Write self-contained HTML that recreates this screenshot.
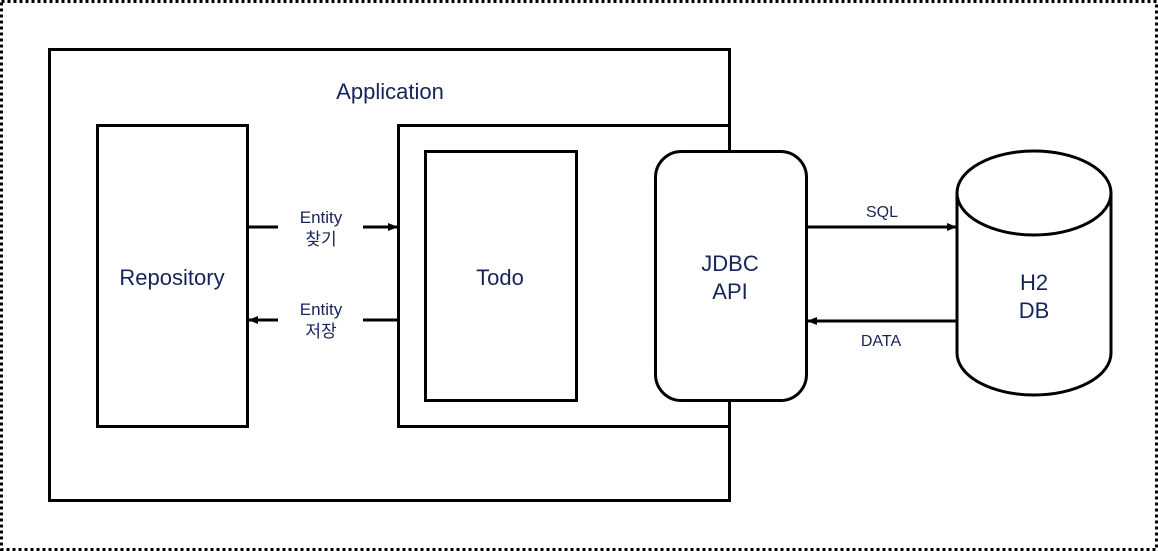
<!DOCTYPE html>
<html><head><meta charset="utf-8"><style>
html,body{margin:0;padding:0;background:#fff;}
svg{display:block}
text{font-family:"Liberation Sans","Noto Sans CJK KR",sans-serif;fill:#16245a;}
</style></head><body>
<svg width="1158" height="551" viewBox="0 0 1158 551">
<defs><marker id="a" markerWidth="10" markerHeight="8" refX="9" refY="4" orient="auto" markerUnits="userSpaceOnUse"><path d="M0,0 L10,4 L0,8 z" fill="#000"/></marker></defs>
<rect x="1.5" y="1.5" width="1155" height="548" fill="none" stroke="#000" stroke-width="3" stroke-dasharray="3,3"/>
<g fill="none" stroke="#000" stroke-width="3">
<rect x="49.5" y="49.5" width="680" height="451"/>
<rect x="97.5" y="125.5" width="150" height="301"/>
<rect x="398.5" y="125.5" width="331" height="301"/>
<rect x="425.5" y="151.5" width="151" height="249"/>
<rect x="655.5" y="151.5" width="151" height="249" rx="26" fill="#fff"/>
<path d="M957,193 L957,353 A77,42 0 0 0 1111,353 L1111,193 A77,42 0 0 0 957,193 A77,42 0 0 0 1111,193"/>
</g>
<g stroke="#000" stroke-width="3">
<line x1="248" y1="227" x2="278" y2="227"/>
<line x1="363" y1="227" x2="397" y2="227" marker-end="url(#a)"/>
<line x1="397" y1="320" x2="363" y2="320"/>
<line x1="278" y1="320" x2="249" y2="320" marker-end="url(#a)"/>
<line x1="807" y1="227" x2="956" y2="227" marker-end="url(#a)"/>
<line x1="956" y1="321" x2="808" y2="321" marker-end="url(#a)"/>
</g>
<text x="390" y="99" font-size="22" text-anchor="middle">Application</text>
<text x="172" y="285" font-size="22" text-anchor="middle">Repository</text>
<text x="500" y="285" font-size="22" text-anchor="middle">Todo</text>
<text x="730" y="271" font-size="22" text-anchor="middle">JDBC</text>
<text x="730" y="299" font-size="22" text-anchor="middle">API</text>
<text x="1034" y="290" font-size="22" text-anchor="middle">H2</text>
<text x="1034" y="318" font-size="22" text-anchor="middle">DB</text>
<text x="321" y="223" font-size="17" text-anchor="middle">Entity</text>
<text x="321" y="245" font-size="17" text-anchor="middle">찾기</text>
<text x="321" y="315" font-size="17" text-anchor="middle">Entity</text>
<text x="321" y="337" font-size="17" text-anchor="middle">저장</text>
<text x="882" y="217" font-size="16" text-anchor="middle">SQL</text>
<text x="881" y="346" font-size="16" text-anchor="middle">DATA</text>
</svg>
</body></html>
